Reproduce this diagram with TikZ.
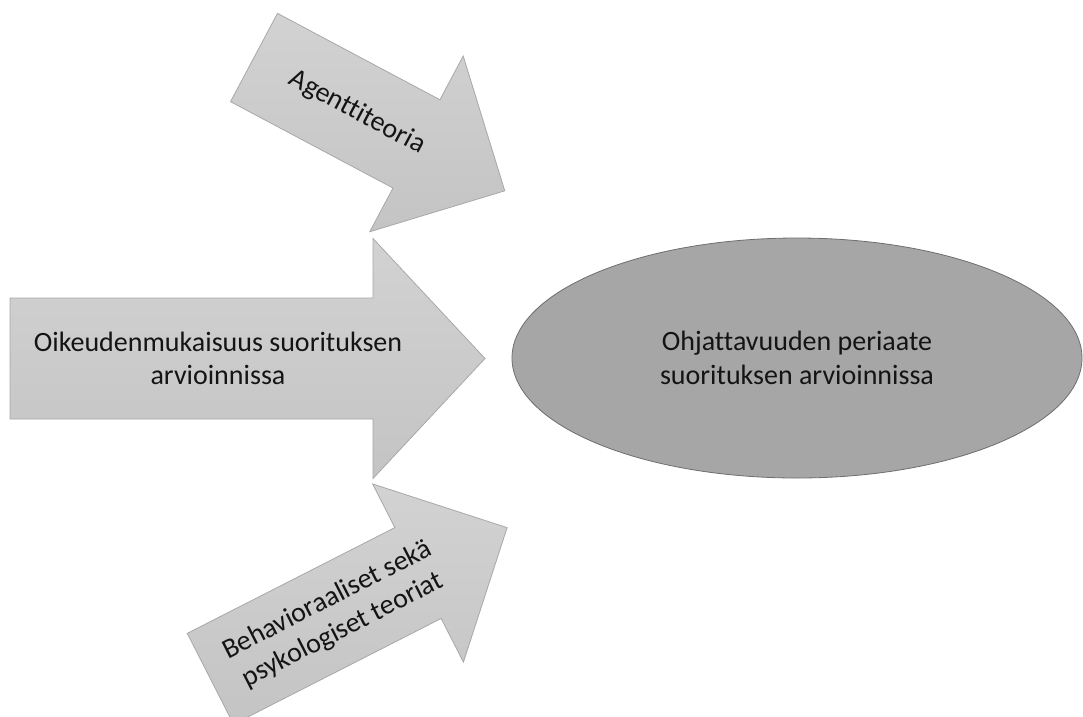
\documentclass[tikz,border=0pt]{standalone}
\usepackage{fontspec}
\setmainfont{Carlito}[Ligatures=NoCommon]
\usetikzlibrary{shapes.geometric}

\definecolor{arrowfill}{HTML}{CCCCCC}
\definecolor{arrowline}{HTML}{A8A8A8}
\definecolor{ovalfill}{HTML}{A6A6A6}
\definecolor{ovalline}{HTML}{6E6E6E}
\definecolor{textcol}{HTML}{141414}

\tikzset{
    arrowbody/.style={draw=arrowline, line width=0.8pt, top color=arrowfill!88!white, bottom color=arrowfill!96!black, line join=miter},
    arrowtext/.style={text=textcol, align=center, font=\fontsize{28}{33.6}\selectfont},
}

\begin{document}
\begin{tikzpicture}[x=1pt, y=-1pt]

                \useasboundingbox (0,0) rectangle (1083,716);

                % Top arrow
                \begin{scope}[shift={(254,57.5)}, rotate=-28]
                    \shade[arrowbody] (0,-50) -- (184,-50) -- (184,-99.5) -- (284,0)
                        -- (184,99.5) -- (184,50) -- (0,50) -- cycle;
                    \node[arrowtext, rotate=-28] (agentti) at (117,0) {Agenttiteoria};
                \end{scope}

                % Middle arrow
                \begin{scope}[shift={(10,358.5)}]
                    \shade[arrowbody] (0,-60.5) -- (363,-60.5) -- (363,-120) -- (475,0)
                        -- (363,120) -- (363,60.5) -- (0,60.5) -- cycle;
                    \node[arrowtext] (oikeus) at (208,0) {Oikeudenmukaisuus suorituksen\\arvioinnissa};
                \end{scope}

                % Bottom arrow
                \begin{scope}[shift={(210.4,678.8)}, rotate=27]
                    \shade[arrowbody] (0,-51) -- (233,-51) -- (233,-100) -- (333,0)
                        -- (233,100) -- (233,51) -- (0,51) -- cycle;
                    \node[arrowtext, rotate=27] (behav) at (140,0) {Behavioraaliset sekä\\psykologiset teoriat};
                \end{scope}

                % Ellipse
                \node
                [
                    ellipse,
                    draw=ovalline,
                    line width=0.8pt,
                    fill=ovalfill,
                    minimum width=570pt,
                    minimum height=240pt,
                    arrowtext
                ] (periaate) at (797,358) {Ohjattavuuden periaate\\suorituksen arvioinnissa};

\end{tikzpicture}
\end{document}
